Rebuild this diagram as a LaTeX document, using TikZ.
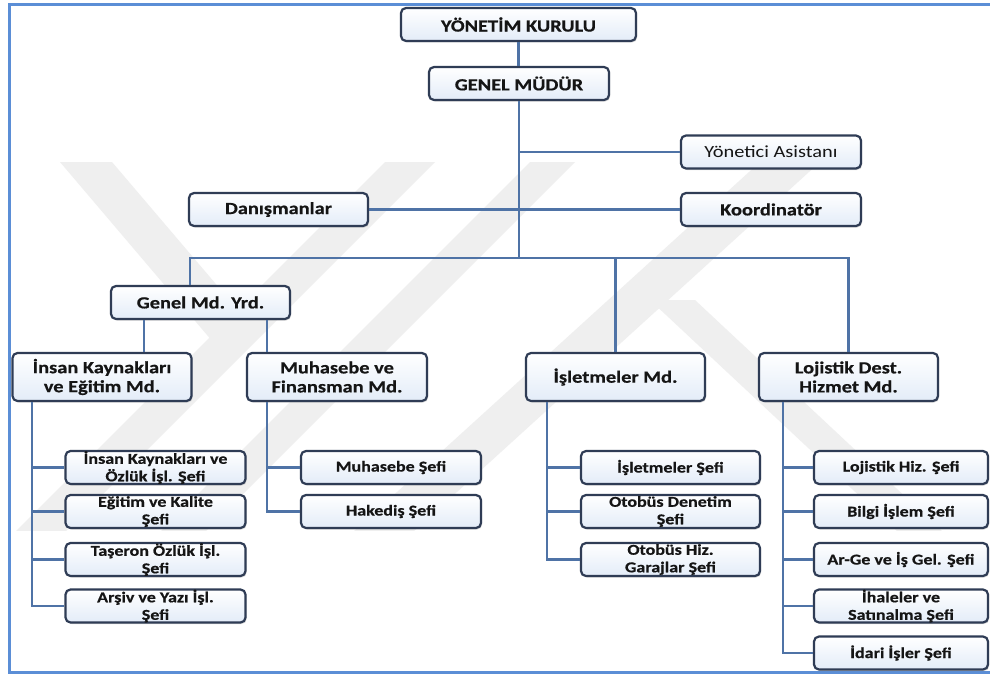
\documentclass[tikz,border=0pt]{standalone}
\usepackage{fontspec}
\setmainfont{Carlito}[FakeStretch=1.2, BoldFeatures={FakeBold=0.6}]
\usetikzlibrary{shadows}
\definecolor{frameblue}{HTML}{5B8ED6}
\definecolor{linkblue}{HTML}{4F73A6}
\definecolor{boxline}{HTML}{2F3C55}
\definecolor{boxfill}{HTML}{E3ECF8}
\definecolor{wmgray}{HTML}{EFEFEF}
\definecolor{txt}{HTML}{151515}
\begin{document}
\begin{tikzpicture}[x=1pt,y=-1pt,
  box/.style={draw=boxline, line width=2.2pt, rounded corners=5pt,
    top color=white, bottom color=boxfill, inner sep=0pt, align=center,
    text=txt, font=\bfseries\fontsize{17}{19}\selectfont,
    drop shadow={shadow xshift=1.2pt,shadow yshift=-1.5pt,opacity=0.3}},
  topbox/.style={box, minimum height=33pt},
  midbox/.style={box, minimum width=179pt, minimum height=48pt},
  chief/.style={box, minimum width=180pt, minimum height=33pt,
    font=\bfseries\fontsize{15}{17.5}\selectfont},
  link/.style={draw=linkblue, line width=2.3pt},
  wm/.style={fill=wmgray, draw=none}]
\useasboundingbox (0,0) rectangle (990,677);
\fill[white] (0,0) rectangle (990,677);

% watermark
\begin{scope}
\clip (10,160) rectangle (990,530);
\fill[wm] (385,162) -- (435,162) -- (65,532) -- (15,532) -- cycle;
\fill[wm] (60,162) -- (112,162) -- (238,310) -- (231.7,364) -- cycle;
\fill[wm] (530,162) -- (575,162) -- (205,532) -- (160,532) -- cycle;
\fill[wm] (760,162) -- (820,162) -- (413,532) -- (353,532) -- cycle;
\fill[wm] (650,300) -- (695,300) -- (943,532) -- (898,532) -- cycle;
\end{scope}

% frame
\draw[frameblue, line width=3pt] (992,5) -- (9,5) -- (9,672) -- (992,672);

% top levels
\node[topbox, minimum width=235pt] (yk) at (518.5,24.5) {YÖNETİM KURULU};
\node[topbox, minimum width=180pt] (gm) at (519,83.5) {GENEL MÜDÜR};
\node[topbox, minimum width=180pt, font=\fontsize{17}{19}\selectfont] (ya) at (771,152) {Yönetici Asistanı};
\node[topbox, minimum width=179pt] (dan) at (278.5,209.5) {Danışmanlar};
\node[topbox, minimum width=180pt] (koo) at (771,209.5) {Koordinatör};
\node[topbox, minimum width=179pt] (gmy) at (200.5,302.5) {Genel Md. Yrd.};

% directorates
\node[midbox] (ik) at (102,377) {İnsan Kaynakları\\ve Eğitim Md.};
\node[midbox, minimum width=180pt] (muh) at (337,377) {Muhasebe ve\\Finansman Md.};
\node[midbox] (isl) at (615.5,377) {İşletmeler Md.};
\node[midbox] (loj) at (848.5,377) {Lojistik Dest.\\Hizmet Md.};

% chiefs
\node[chief] (ik1) at (155.5,467.5) {İnsan Kaynakları ve\\Özlük İşl. Şefi};
\node[chief] (ik2) at (155.5,511.5) {Eğitim ve Kalite\\Şefi};
\node[chief] (ik3) at (155.5,559.5) {Taşeron Özlük İşl.\\Şefi};
\node[chief] (ik4) at (155.5,606) {Arşiv ve Yazı İşl.\\Şefi};
\node[chief] (mu1) at (391,467.5) {Muhasebe Şefi};
\node[chief] (mu2) at (391,511.5) {Hakediş Şefi};
\node[chief, minimum width=179pt] (is1) at (670.5,467.5) {İşletmeler Şefi};
\node[chief, minimum width=179pt] (is2) at (670.5,511.5) {Otobüs Denetim\\Şefi};
\node[chief, minimum width=179pt] (is3) at (670.5,559.5) {Otobüs Hiz.\\Garajlar Şefi};
\node[chief, minimum width=174pt] (lo1) at (901,467.5) {Lojistik Hiz. Şefi};
\node[chief, minimum width=174pt] (lo2) at (901,511.5) {Bilgi İşlem Şefi};
\node[chief, minimum width=174pt] (lo3) at (901,559.5) {Ar-Ge ve İş Gel. Şefi};
\node[chief, minimum width=174pt] (lo4) at (901,606) {İhaleler ve\\Satınalma Şefi};
\node[chief, minimum width=174pt] (lo5) at (901,653) {İdari İşler Şefi};

% connectors
\coordinate (bus) at (gm.south |- 0,258);
\draw[link] (yk.south) -- (yk.south |- gm.north);
\draw[link] (gm.south) -- (bus);
\draw[link] (gm.south |- ya.west) -- (ya.west);
\draw[link] (dan.east) -- (koo.west);
\draw[link] ([xshift=-10.5pt]gmy.north) |- (bus) -| (loj.north);
\draw[link] (isl.north) -- (isl.north |- bus);
\draw[link] ([xshift=42pt]ik.north) -- ([xshift=42pt]ik.north |- gmy.south);
\draw[link] ([xshift=-70pt]muh.north) -- ([xshift=-70pt]muh.north |- gmy.south);

\coordinate (iks) at ([xshift=-70pt]ik.south);
\coordinate (mus) at ([xshift=-70pt]muh.south);
\coordinate (iss) at ([xshift=-68.5pt]isl.south);
\coordinate (los) at ([xshift=-65.5pt]loj.south);
\draw[link] (iks) |- (ik4.west);
\foreach \n in {ik1,ik2,ik3} \draw[link] (\n.west) -- (\n.west -| iks);
\draw[link] (mus) |- (mu2.west);
\draw[link] (mu1.west) -- (mu1.west -| mus);
\draw[link] (iss) |- (is3.west);
\foreach \n in {is1,is2} \draw[link] (\n.west) -- (\n.west -| iss);
\draw[link] (los) |- (lo5.west);
\foreach \n in {lo1,lo2,lo3,lo4} \draw[link] (\n.west) -- (\n.west -| los);
\end{tikzpicture}
\end{document}
